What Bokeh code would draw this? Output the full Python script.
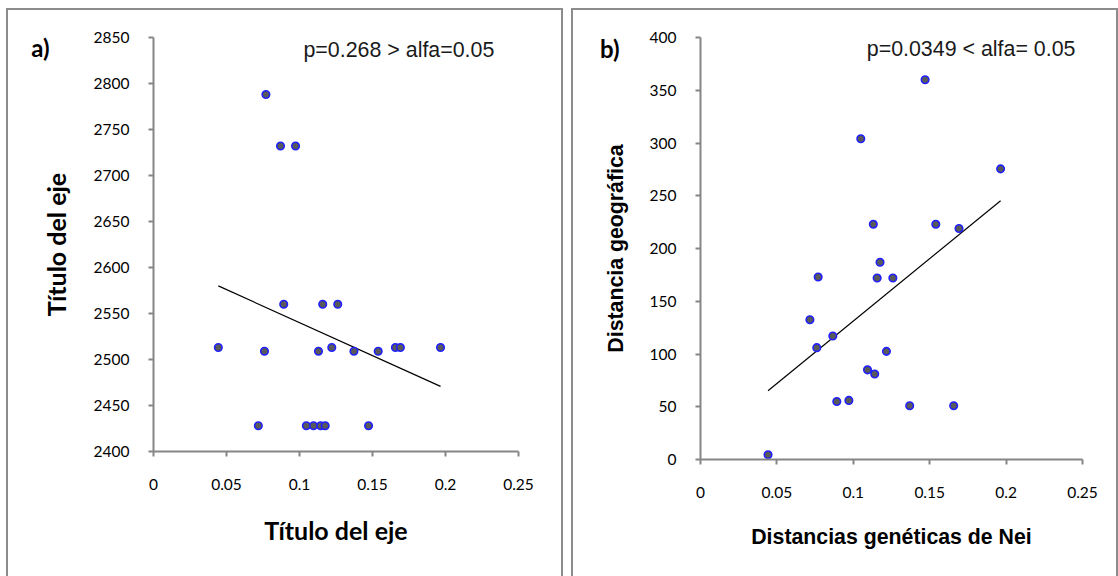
import numpy as np
from bokeh.plotting import figure
from bokeh.layouts import row
from bokeh.models import Label, FixedTicker, LinearAxis
from bokeh.embed import file_html
from bokeh.resources import INLINE

# ---- data ----
nei_a = [0.0770, 0.0870, 0.0973, 0.0892, 0.1159, 0.1262, 0.0444, 0.0760, 0.1130, 0.1221,
         0.1373, 0.1539, 0.1657, 0.1691, 0.1966, 0.0718, 0.1047, 0.1096, 0.1145, 0.1176, 0.1473]
val_a = [2788, 2732, 2732, 2560, 2560, 2560, 2513, 2509, 2509, 2513,
         2509, 2509, 2513, 2513, 2513, 2428, 2428, 2428, 2428, 2428, 2428]

nei_b = [0.1470, 0.1049, 0.1964, 0.1131, 0.1540, 0.1692, 0.1175, 0.0770, 0.1156, 0.1259,
         0.0716, 0.0866, 0.0761, 0.1217, 0.1093, 0.1140, 0.0892, 0.0971, 0.1369, 0.1657, 0.0442]
dist_b = [360, 304, 275.5, 223, 223, 219, 187, 173, 172, 172,
          132.5, 117, 106, 102.5, 85, 81, 55, 56, 51, 51, 4.5]

x_ticks = [0, 0.05, 0.1, 0.15, 0.2, 0.25]
x_tick_labels = ["0", "0.05", "0.1", "0.15", "0.2", "0.25"]
y_ticks_a = [2400, 2450, 2500, 2550, 2600, 2650, 2700, 2750, 2800, 2850]
y_ticks_b = [0, 50, 100, 150, 200, 250, 300, 350, 400]

panel_a = "a)"
panel_b = "b)"
text_a = "p=0.268 > alfa=0.05"
text_b = "p=0.0349 < alfa= 0.05"

AX = "#868686"
OUTLINE = "2px solid #8c8c8c"
H = 566


def style_axes(p, title_font, title_size, x_title_standoff, y_title_standoff):
    for ax in (p.xaxis[0], p.yaxis[0]):
        ax.axis_line_color = AX
        ax.axis_line_width = 2
        ax.major_tick_line_color = AX
        ax.major_tick_line_width = 2
        ax.major_tick_out = 5
        ax.major_tick_in = 0
        ax.minor_tick_line_color = None
        ax.major_label_text_font = "Lato"
        ax.major_label_text_font_size = "15.5px"
        ax.major_label_text_color = "#000000"
        ax.axis_label_text_font = title_font
        ax.axis_label_text_font_style = "bold"
        ax.axis_label_text_font_size = title_size
        ax.axis_label_text_color = "#000000"
    p.xaxis[0].major_label_standoff = 22
    p.yaxis[0].major_label_standoff = 19
    p.xaxis[0].axis_label_standoff = x_title_standoff
    p.yaxis[0].axis_label_standoff = y_title_standoff
    p.xgrid.grid_line_color = None
    p.ygrid.grid_line_color = None
    p.outline_line_color = None
    p.xaxis.ticker = FixedTicker(ticks=x_ticks)
    p.xaxis.major_label_overrides = {t: l for t, l in zip(x_ticks, x_tick_labels)}


def add_points(p, xs, ys):
    xs = np.array(xs)
    ys = np.array(ys)
    k, b = np.polyfit(xs, ys, 1)
    xl = np.array([xs.min(), xs.max()])
    p.line(xl, k * xl + b, line_color="black", line_width=1.2)
    p.scatter(xs, ys, size=7.5, fill_color="#595959", line_color="#2020ff", line_width=1.6)


def add_panel_letter(p, text, y_at, standoff):
    # an extra, bare axis whose single tick label is the panel letter
    ax = LinearAxis(ticker=FixedTicker(ticks=[y_at]), major_label_overrides={y_at: text},
                    axis_line_color=None, major_tick_line_color=None,
                    minor_tick_line_color=None, major_tick_out=0, major_tick_in=0,
                    major_label_standoff=standoff, major_label_text_font="Lato",
                    major_label_text_font_style="bold", major_label_text_font_size="24px",
                    major_label_text_color="#000000")
    p.add_layout(ax, "left")


# ---- panel a ----
p1 = figure(width=553, height=H, x_range=(0, 0.25), y_range=(2400, 2850),
            output_backend="svg", toolbar_location=None, margin=(10, 0, 0, 8),
            min_border_left=145, min_border_right=43, min_border_top=27, min_border_bottom=125)
p1.frame_align = False
style_axes(p1, "Lato", "25px", 22, 20)
p1.yaxis.ticker = FixedTicker(ticks=y_ticks_a)
p1.xaxis.axis_label = "Título del eje"
p1.yaxis.axis_label = "Título del eje"
add_points(p1, nei_a, val_a)
add_panel_letter(p1, panel_a, 2838.6, -12)
p1.add_layout(Label(x=0.1027, y=2836.9, text=text_a, text_font="Liberation Sans",
                    text_font_size="21.4px", text_color="#1a1a1a", text_baseline="alphabetic"))
p1.styles = {"outline": OUTLINE}

# ---- panel b ----
p2 = figure(width=543, height=H, x_range=(0, 0.25), y_range=(0, 400),
            output_backend="svg", toolbar_location=None, margin=(10, 0, 0, 0),
            min_border_left=127, min_border_right=34, min_border_top=27, min_border_bottom=117)
p2.frame_align = False
style_axes(p2, "Liberation Sans", "21.3px", 24, 19)
p2.yaxis.ticker = FixedTicker(ticks=y_ticks_b)
p2.xaxis.axis_label = "Distancias genéticas de Nei"
p2.yaxis.axis_label = "Distancia geográfica"
add_points(p2, nei_b, dist_b)
add_panel_letter(p2, panel_b, 390, -19)
p2.add_layout(Label(x=0.1088, y=388.7, text=text_b, text_font="Liberation Sans",
                    text_font_size="21.4px", text_color="#1a1a1a", text_baseline="alphabetic"))
p2.styles = {"outline": OUTLINE}

layout = row(p1, p2, spacing=12)
open("out.html", "w").write(file_html(layout, INLINE))
